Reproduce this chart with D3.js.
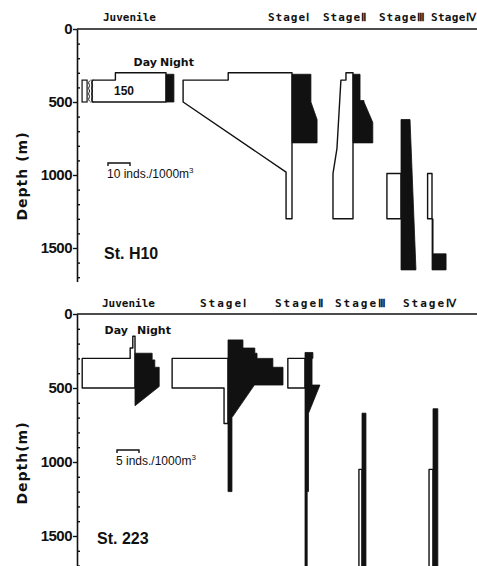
<!DOCTYPE html>
<html lang="en">
<head>
<meta charset="UTF-8">
<title>Vertical distribution - St. H10 and St. 223</title>
<style>
  body { margin: 0; background: #fff; }
  svg { display: block; }
  text { fill: #111; }
</style>
</head>
<body>
<div id="chart"></div>
<script src="https://d3js.org/d3.v7.min.js"></script>
<script>
const width = 477, height = 566;

const stages = ["Juvenile", "StageⅠ", "StageⅡ", "StageⅢ", "StageⅣ"];
const depthTicks = [0, 500, 1000, 1500];

// St. H10 : [depth (m), inds./1000m3]
const h10JuvDay = [[300, 23], [350, 23], [350, 150], [500, 150]];
const h10JuvNight = [[310, 3.6], [500, 3.6]];
const h10St1Day = [[300, 29], [350, 29], [350, 49.5], [500, 49.5], [980, 2.7], [1300, 2.7]];
const h10St1Night = [[310, 8.6], [500, 8.6], [620, 11.4], [780, 11.4]];
const h10St2Day = [[300, 3.2], [350, 3.2], [350, 5.5], [820, 7.3], [990, 9.1], [1300, 9.1]];
const h10St2Night = [[310, 3.2], [490, 3.2], [490, 5], [500, 5], [640, 9], [780, 9]];
const h10St3Day = [[990, 6.4], [1300, 6.4]];
const h10St3Night = [[620, 4.1], [1650, 6.8]];
const h10St4Day = [[990, 2], [1300, 2]];
const h10St4Night = [[1300, 0.5], [1540, 0.5], [1540, 6.4], [1650, 6.4]];

// St. 223
const s223JuvDay = [[150, 0.5], [230, 0.5], [230, 1.1], [300, 1.1], [300, 12], [500, 12]];
const s223JuvNight = [[265, 3.9], [310, 3.9], [310, 4.5], [360, 4.5], [360, 5.5], [490, 5.5], [620, 0]];
const s223St1Day = [[300, 12.7], [500, 12.7], [500, 0.9], [740, 0.9]];
const s223St1Night = [[175, 3.4], [230, 3.4], [230, 6.1], [265, 6.1], [265, 6.6], [300, 6.6], [300, 10.2],
  [360, 10.2], [360, 12.5], [480, 12.5], [480, 6], [700, 0.9], [1200, 0.9]];
const s223St2Day = [[300, 3.9], [500, 3.9]];
const s223St2Night = [[260, 1.8], [300, 1.8], [300, 1.6], [480, 1.6], [480, 3.4], [670, 0.8], [1200, 0.8],
  [1200, 0.5], [1760, 0.5]];
const s223St3Day = [[1050, 0.7], [1760, 0.7]];
const s223St3Night = [[670, 0.9], [1760, 0.9]];
const s223St4Day = [[1050, 0.9], [1760, 0.9]];
const s223St4Night = [[640, 1.1], [1760, 1.1]];

// layout of the two panels
const panels = [
  {
    station: "St. H10", top: 29, pxPerM: 0.146, axisEnd: 1730,
    unit: 10, unitPx: 22, unitLabel: "10 inds./1000m",
    centers: [166, 292, 353, 401, 432], labelX: [103, 268, 323, 379, 431], labelY: 21,
    labelSpacing: [0, 1, 1, 1, 0.3],
    day: [h10JuvDay, h10St1Day, h10St2Day, h10St3Day, h10St4Day],
    night: [h10JuvNight, h10St1Night, h10St2Night, h10St3Night, h10St4Night],
    dayNight: [157, 160, 66], scaleBar: [108, 163], stationPos: [104, 259], depthLabel: "Depth (m)", depthY: 176,
    juvCap: 33.6
  },
  {
    station: "St. 223", top: 314, pxPerM: 0.148, axisEnd: 1760,
    unit: 5, unitPx: 22, unitLabel: "5 inds./1000m",
    centers: [135, 228, 305, 362, 433], labelX: [102, 200, 275, 335, 403], labelY: 307,
    labelSpacing: [0, 2, 2, 2, 2],
    day: [s223JuvDay, s223St1Day, s223St2Day, s223St3Day, s223St4Day],
    night: [s223JuvNight, s223St1Night, s223St2Night, s223St3Night, s223St4Night],
    dayNight: [128, 137, 334], scaleBar: [117, 450], stationPos: [97, 544], depthLabel: "Depth(m)", depthY: 463,
    juvCap: Infinity
  }
];

const svg = d3.select("#chart").append("svg")
  .attr("width", width)
  .attr("height", height);

const axisX = 77;

panels.forEach(p => {
  const y = d3.scaleLinear()
    .domain([0, p.axisEnd])
    .range([p.top, p.top + p.axisEnd * p.pxPerM]);
  const w = d3.scaleLinear().domain([0, p.unit]).range([0, p.unitPx]);

  const g = svg.append("g");

  // top line
  g.append("line")
    .attr("x1", axisX).attr("x2", width)
    .attr("y1", y(0)).attr("y2", y(0))
    .attr("stroke", "#111").attr("stroke-width", 1.6);

  // depth axis: labelled ticks out, 100 m ticks in
  g.append("g")
    .attr("transform", `translate(${axisX},0)`)
    .call(d3.axisLeft(y).tickValues(depthTicks).tickSize(4).tickSizeOuter(0).tickPadding(1)
      .tickFormat(d3.format("d")))
    .call(a => a.select(".domain").attr("stroke", "#111").attr("stroke-width", 1.6))
    .call(a => a.selectAll(".tick line").attr("stroke", "#111").attr("stroke-width", 1.4))
    .call(a => a.selectAll(".tick text")
      .attr("fill", "#111")
      .style("font-family", "'Liberation Sans', Arial, sans-serif")
      .style("font-weight", "bold")
      .style("font-size", "15px")
      .style("letter-spacing", "-0.5px"));

  g.append("g")
    .attr("transform", `translate(${axisX},0)`)
    .call(d3.axisRight(y).tickValues(d3.range(100, p.axisEnd, 100).filter(d => d % 500 !== 0))
      .tickSize(3).tickSizeOuter(0).tickFormat(""))
    .call(a => a.select(".domain").remove())
    .call(a => a.selectAll(".tick line").attr("stroke", "#111").attr("stroke-width", 1.4));

  g.append("text")
    .attr("transform", `translate(27,${p.depthY}) rotate(-90)`)
    .attr("text-anchor", "middle")
    .style("font-family", "'DejaVu Sans', sans-serif")
    .style("font-weight", "bold")
    .style("font-size", "14px")
    .style("letter-spacing", "1px")
    .text(p.depthLabel);

  // stage headers
  g.selectAll(".stage")
    .data(stages)
    .join("text")
    .attr("class", "stage")
    .attr("x", (d, i) => p.labelX[i])
    .attr("y", p.labelY)
    .style("font-family", "'DejaVu Sans Mono', monospace")
    .style("font-weight", "bold")
    .style("font-size", "11px")
    .style("letter-spacing", (d, i) => p.labelSpacing[i] + "px")
    .text(d => d);

  // profiles
  const profile = (pts, cx, side, cap) => {
    const ring = [[pts[0][0], 0], ...pts, [pts[pts.length - 1][0], 0]];
    return d3.line()
      .x(d => cx + side * w(Math.min(d[1], cap)))
      .y(d => y(d[0]))(ring) + "Z";
  };

  p.day.forEach((pts, i) => {
    g.append("path")
      .attr("d", profile(pts, p.centers[i], -1, i === 0 ? p.juvCap : Infinity))
      .attr("fill", "#fff")
      .attr("stroke", "#111")
      .attr("stroke-width", 1.4)
      .attr("stroke-linejoin", "round");
  });
  p.night.forEach((pts, i) => {
    g.append("path")
      .attr("d", profile(pts, p.centers[i], 1, Infinity))
      .attr("fill", "#111")
      .attr("stroke", "#111")
      .attr("stroke-width", 0.8);
  });

  // broken bar (value off scale)
  const broken = p.day[0].filter(d => d[1] > p.juvCap);
  if (broken.length) {
    const cx = p.centers[0];
    const bx = cx - w(p.juvCap);
    const y0 = y(broken[0][0]), y1 = y(broken[broken.length - 1][0]);
    g.append("rect")
      .attr("x", bx - 10).attr("y", y0)
      .attr("width", 5).attr("height", y1 - y0)
      .attr("fill", "#fff").attr("stroke", "#111").attr("stroke-width", 1.2);
    [-3, 0].forEach(off => {
      const zz = d3.range(0, 9).map(k => [bx + off + (k % 2 ? -1.5 : 1.5), y0 + (y1 - y0) * k / 8]);
      g.append("path")
        .attr("d", d3.line().curve(d3.curveBasis)(zz))
        .attr("fill", "none").attr("stroke", "#111").attr("stroke-width", 1);
    });
    g.append("text")
      .attr("x", (bx + cx) / 2 - 5)
      .attr("y", (y0 + y1) / 2 + 4)
      .attr("text-anchor", "middle")
      .style("font-family", "'Liberation Sans', Arial, sans-serif")
      .style("font-weight", "bold")
      .style("font-size", "12px")
      .text(d3.max(broken, d => d[1]));
  }

  // Day / Night
  g.append("text")
    .attr("x", p.dayNight[0]).attr("y", p.dayNight[2])
    .attr("text-anchor", "end")
    .style("font-family", "'DejaVu Sans', sans-serif")
    .style("font-size", "11px")
    .style("font-weight", "bold")
    .text("Day");
  g.append("text")
    .attr("x", p.dayNight[1]).attr("y", p.dayNight[2])
    .style("font-family", "'DejaVu Sans', sans-serif")
    .style("font-size", "11px")
    .style("font-weight", "bold")
    .text("Night");

  // scale bar
  const [sx, sy] = p.scaleBar;
  g.append("path")
    .attr("d", `M${sx},${sy + 3}V${sy}H${sx + w(p.unit)}V${sy + 3}`)
    .attr("fill", "none").attr("stroke", "#111").attr("stroke-width", 1.4);
  const ut = g.append("text")
    .attr("x", sx - 1).attr("y", sy + 15)
    .style("font-family", "'Liberation Sans', Arial, sans-serif")
    .style("font-size", "12px")
    .text(p.unitLabel);
  ut.append("tspan").attr("dy", -5).style("font-size", "8px").text("3");

  // station
  g.append("text")
    .attr("x", p.stationPos[0]).attr("y", p.stationPos[1])
    .style("font-family", "'Liberation Sans', Arial, sans-serif")
    .style("font-weight", "bold")
    .style("font-size", "16px")
    .text(p.station);
});
</script>
</body>
</html>
